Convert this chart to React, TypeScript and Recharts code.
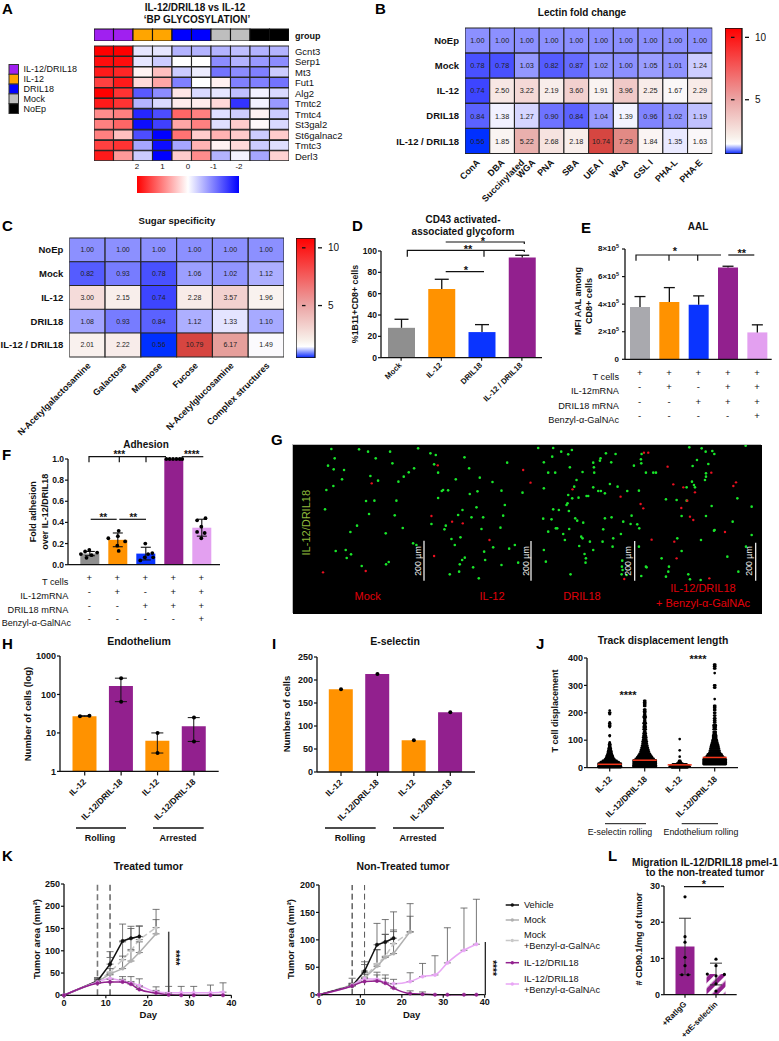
import React from "react";
import {
  Bar,
  BarChart,
  Cell,
  ComposedChart,
  ErrorBar,
  LabelList,
  Line,
  LineChart,
  ReferenceLine,
  Scatter,
  ScatterChart,
  XAxis,
  YAxis,
} from "recharts";

const FONT = "'Liberation Sans', Arial, sans-serif";
const INK = "#111";
const GRAY = "#8f8f8f";
const LGRAY = "#a9a9ae";
const ORANGE = "#ff9200";
const BLUE = "#0a34ff";
const PURPLE = "#92208e";
const LILAC = "#e3a0f0";

// --- panel A
const groupNames = ["IL-12/DRIL18", "IL-12", "DRIL18", "Mock", "NoEp"];
const groupColors = ["#a020f0", "#ffa500", "#0000ff", "#bebebe", "#000000"];
const stripColors = ["#a020f0", "#a020f0", "#ffa500", "#ffa500", "#0000ff", "#0000ff", "#bebebe", "#bebebe", "#000000", "#000000"];
const genes = ["Gcnt3", "Serp1", "Mt3", "Fut1", "Alg2", "Tmtc2", "Tmtc4", "St3gal2", "St6galnac2", "Tmtc3", "Derl3"];
const geneZ = [
  [2, 2, -0.2, -0.2, -0.6, -0.6, -0.6, -0.5, -0.6, -0.6],
  [1.9, 1.9, -0.2, -0.4, 0, 0, -0.9, -0.6, -0.8, -0.9],
  [1.8, 1.7, 0.1, 0.5, -0.4, -0.15, -1.1, -0.9, -1, -0.4],
  [1.5, 1.8, 0.3, 0.7, -1, 0, 0.12, -1, -1, -1.1],
  [2, 1.6, -1.3, -0.9, 0.2, -0.3, -0.2, -0.5, -0.1, -0.3],
  [1.8, 1.6, -0.6, -0.3, 0.15, 0.15, 0.3, -1.6, -0.1, -0.8],
  [0.9, 1, -1.7, -1.4, 1.2, 1, -0.25, -0.4, 0.1, -0.4],
  [1, 1.2, -1.9, -1.5, 0.7, 1, -0.25, 0.4, 0.05, -0.3],
  [1, 0.5, -1.4, -2, 1.1, 0.4, 0.6, 0.4, -0.4, 0.4],
  [1.5, 1.6, -0.7, -1.9, -0.7, 0.6, 0.1, 0.3, -0.4, -0.25],
  [1.8, 0.8, -0.4, -2, 0.4, 0.9, -0.6, -0.1, -0.7, 0.35],
];

// --- panels B and C
const foldRows = ["NoEp", "Mock", "IL-12", "DRIL18", "IL-12 / DRIL18"];
const lectins = ["ConA", "DBA", "Succinylated\nWGA", "PNA", "SBA", "UEA I", "WGA", "GSL I", "PHA-L", "PHA-E"];
const lectinFold = [
  [1, 1, 1, 1, 1, 1, 1, 1, 1, 1],
  [0.78, 0.78, 1.03, 0.82, 0.87, 1.02, 1, 1.05, 1.01, 1.24],
  [0.74, 2.5, 3.22, 2.19, 3.6, 1.91, 3.96, 2.25, 1.67, 2.29],
  [0.84, 1.38, 1.27, 0.9, 0.84, 1.04, 1.39, 0.96, 1.02, 1.19],
  [0.56, 1.85, 5.22, 2.68, 2.18, 10.74, 7.29, 1.84, 1.35, 1.63],
];
const sugars = ["N-Acetylgalactosamine", "Galactose", "Mannose", "Fucose", "N-Acetylglucosamine", "Complex structures"];
const sugarFold = [
  [1, 1, 1, 1, 1, 1],
  [0.82, 0.93, 0.78, 1.06, 1.02, 1.12],
  [3, 2.15, 0.74, 2.28, 3.57, 1.96],
  [1.08, 0.93, 0.84, 1.12, 1.33, 1.1],
  [2.01, 2.22, 0.56, 10.79, 6.17, 1.49],
];

// --- panel D
const dLabels = ["Mock", "IL-12", "DRIL18", "IL-12 / DRIL18"];
const dValues = [28, 64.5, 24, 94];
const dErrors = [8, 9, 7, 2];

// --- panel E
const eValues = [380000, 415000, 395000, 665000, 195000];
const eErrors = [75000, 105000, 65000, 10000, 55000];
const eTicks = [0, 200000, 400000, 600000, 800000];
const tCells = ["+", "+", "+", "+", "+"];
const il12Row = ["-", "+", "-", "+", "+"];
const dril18Row = ["-", "-", "+", "+", "+"];
const benzylRow = ["-", "-", "-", "-", "+"];

// --- panel F
const fValues = [0.105, 0.235, 0.105, 1, 0.35];
const fSpread = [0.02, 0.065, 0.06, 0, 0.08];
const fDots = [
  { x: -0.3, y: 0.1 }, { x: -0.15, y: 0.125 }, { x: 0, y: 0.14 }, { x: 0.28, y: 0.115 }, { x: -0.1, y: 0.065 }, { x: 0.08, y: 0.09 },
  { x: 0.68, y: 0.25 }, { x: 1.05, y: 0.32 }, { x: 1.28, y: 0.22 }, { x: 1.02, y: 0.27 }, { x: 1.0, y: 0.18 }, { x: 1.05, y: 0.13 },
  { x: 1.82, y: 0.04 }, { x: 2.0, y: 0.2 }, { x: 2.28, y: 0.07 }, { x: 2.1, y: 0.1 }, { x: 1.98, y: 0.07 }, { x: 2.25, y: 0.11 },
  { x: 2.75, y: 1 }, { x: 2.87, y: 1 }, { x: 2.99, y: 1 }, { x: 3.11, y: 1 }, { x: 3.23, y: 1 }, { x: 3.32, y: 1 },
  { x: 3.85, y: 0.42 }, { x: 4.15, y: 0.44 }, { x: 4.0, y: 0.36 }, { x: 3.85, y: 0.31 }, { x: 4.12, y: 0.3 }, { x: 4.0, y: 0.25 },
];

const greenSpots = [
  [275, 57], [358, 58], [385, 65], [451, 65], [535, 55], [408, 85], [285, 85], [458, 100], [265, 107], [282, 118], [313, 120], [523, 115], [507, 127], [392, 138], [492, 140], [307, 148], [476, 155], [415, 152], [281, 168], [260, 180], [404, 212], [379, 213], [256, 238], [465, 256], [388, 252], [352, 287], [489, 294], [332, 306], [438, 310], [288, 363], [318, 360], [334, 373], [321, 384], [439, 403], [366, 408], [447, 396], [520, 340], [530, 345], [470, 212],
  [572, 70], [588, 75], [674, 82], [583, 103], [595, 128], [688, 115], [802, 98], [648, 148], [720, 143], [758, 156], [610, 180], [606, 183], [625, 181], [690, 192], [713, 184], [595, 204], [785, 182], [848, 188], [795, 225], [710, 232], [668, 240], [655, 255], [695, 262], [790, 257], [618, 287], [730, 262], [614, 298], [725, 297], [782, 293], [635, 327], [662, 322], [645, 345], [825, 345], [808, 356], [733, 365], [760, 352], [675, 383], [667, 390], [660, 403], [700, 412], [736, 390], [785, 405], [835, 398], [630, 433], [658, 425], [717, 445], [575, 282],
  [895, 54], [940, 54], [964, 65], [996, 60], [985, 73], [937, 80], [1098, 70], [1127, 72], [1082, 85], [1080, 92], [1114, 97], [1060, 98], [912, 97], [990, 112], [1182, 107], [1062, 112], [1063, 128], [925, 128], [946, 128], [1028, 126], [1205, 72], [1203, 88], [1204, 100], [1010, 150], [1110, 162], [1133, 170], [1060, 172], [985, 195], [1003, 170], [912, 175], [1075, 183], [1083, 183], [1095, 190], [1162, 183], [1197, 182], [997, 205], [1016, 203], [1040, 198], [1045, 198], [983, 220], [980, 225], [940, 238], [957, 240], [987, 243], [1006, 265], [1012, 272], [935, 268], [910, 266], [1095, 265], [1115, 262], [1175, 257], [1030, 278], [1150, 275], [1172, 282], [1192, 283], [1198, 295], [948, 295], [952, 295], [988, 297], [925, 305], [970, 312], [1090, 298], [1143, 312], [1024, 320], [1028, 325], [1120, 325], [1088, 335], [1060, 360], [1018, 348], [1050, 335], [912, 360], [1034, 372], [1038, 385], [1037, 398], [1118, 350], [975, 330], [1147, 392], [1146, 410], [1148, 420], [1145, 433], [992, 433], [918, 395], [1197, 350], [1218, 410], [1204, 438], [1160, 435],
  [1348, 52], [1385, 55], [1397, 65], [1417, 63], [1423, 72], [1517, 47], [1371, 90], [1405, 102], [1358, 108], [1218, 128], [1240, 128], [1248, 128], [1398, 140], [1356, 155], [1340, 172], [1398, 130], [1395, 150], [1310, 210], [1278, 208], [1340, 212], [1415, 228], [1535, 230], [1325, 258], [1398, 258], [1478, 275], [1424, 300], [1422, 302], [1492, 205], [1312, 325], [1383, 330], [1325, 363], [1462, 380], [1265, 385], [1220, 412], [1287, 410], [1285, 425], [1278, 440], [1345, 433], [1382, 450], [1350, 448], [1495, 425], [1535, 315], [1518, 350], [1365, 172], [1362, 165],
].map(([x, y]) => ({ x, y }));
const redSpots = [
  [250, 427], [378, 423], [396, 160], [594, 106], [850, 120], [872, 158], [575, 258], [637, 275], [669, 280], [749, 330], [583, 378], [998, 178], [1142, 200], [1212, 68], [1225, 68], [1283, 110], [1300, 163], [1330, 172], [1414, 128], [1365, 187], [1488, 157], [1342, 212], [1202, 222], [1210, 235], [1324, 234], [1350, 260], [1360, 270], [1455, 306], [1235, 329], [1303, 335], [1310, 385], [1408, 445], [1153, 447], [1480, 168],
].map(([x, y]) => ({ x, y }));

// --- panels H and I
const rollLabels = ["IL-12", "IL-12/DRIL-18", "IL-12", "IL-12/DRIL-18"];
const hValues = [27, 165, 6.3, 15];
const hDots = [
  { x: -0.13, y: 27 }, { x: 0.13, y: 28 }, { x: 1, y: 265 }, { x: 1, y: 65 },
  { x: 2, y: 10 }, { x: 2, y: 3 }, { x: 3, y: 25 }, { x: 3, y: 6 },
];
const hHigh = [28, 265, 10, 25];
const hLow = [27, 65, 3, 6];
const iValues = [180, 213, 69, 130];

// --- panel J: [displacement, number of tracks]
const jEselIl12 = [[208, 1], [200, 2], [195, 1], [165, 1], [160, 2], [152, 2], [148, 1], [118, 1], [115, 1], [92, 1], [88, 1], [85, 2], [80, 2], [75, 2], [70, 3], [65, 3], [60, 4], [55, 4], [50, 5], [45, 6], [40, 7], [35, 8], [30, 10], [25, 14], [20, 18], [15, 22], [10, 26], [5, 28], [2, 24]];
const jEselDual = [[244, 2], [238, 2], [232, 2], [225, 2], [212, 2], [206, 2], [200, 2], [192, 2], [185, 3], [178, 2], [170, 2], [162, 3], [155, 2], [148, 3], [140, 3], [132, 2], [125, 3], [118, 3], [110, 4], [102, 4], [95, 5], [88, 5], [80, 6], [72, 7], [65, 8], [58, 9], [50, 11], [44, 13], [38, 15], [32, 18], [26, 22], [20, 28], [14, 30], [8, 32], [3, 32]];
const jEndoIl12 = [[104, 1], [63, 1], [40, 1], [25, 2], [20, 3], [15, 6], [12, 14], [8, 18], [4, 20], [1, 16]];
const jEndoDual = [[376, 2], [370, 2], [362, 2], [345, 1], [300, 2], [292, 2], [250, 1], [225, 2], [218, 2], [210, 2], [200, 2], [190, 2], [180, 2], [172, 2], [165, 2], [155, 3], [148, 3], [140, 3], [130, 3], [122, 3], [115, 4], [108, 4], [100, 5], [92, 6], [85, 7], [78, 8], [70, 9], [62, 10], [55, 11], [48, 14], [42, 16], [36, 20], [30, 24], [24, 28], [18, 28], [13, 28]];
const jMeans = [12, 27, 10, 37];
const jGroups = [jEselIl12, jEselDual, jEndoIl12, jEndoDual];

// --- panel K
const allDays = [0, 8, 11, 14, 16, 18, 22, 25, 28, 31, 35, 38];
const tVehicle = [0, 32, 70, 122, 128, 132];
const tVehicleErr = [0, 8, 28, 38, 27, 24];
const tMock = [0, 30, 48, 60, 77, 96, 138];
const tMockErr = [0, 5, 12, 28, 26, 24, 32];
const tMockB = [0, 32, 52, 80, 100, 125, 152];
const tMockBErr = [0, 6, 33, 40, 50, 30, 41];
const tDual = [0, 27, 30, 30, 25, 13, 5, 1, 0, 0, 0, 0];
const tDualErr = [0, 4, 6, 6, 6, 6, 6, 4, 0, 0, 0, 0];
const tDualB = [0, 30, 38, 32, 28, 22, 8, 6, 6, 6, 6, 7];
const tDualBErr = [0, 6, 8, 10, 14, 15, 11, 14, 14, 14, 17, 21];
const nVehicle = [0, 16, 43, 91, 96, 103];
const nVehicleErr = [0, 4, 17, 39, 41, 48];
const nMock = [0, 17, 30, 52, 68, 75, 115];
const nMockErr = [0, 3, 10, 30, 42, 40, 28];
const nMockB = [0, 18, 32, 56, 70, 93, 114];
const nMockBErr = [0, 12, 23, 26, 40, 25, 52];
const nDual = [0, 16, 24, 25, 21, 12, 2, 1, 0, 0, 0, 0];
const nDualErr = [0, 3, 6, 16, 15, 8, 5, 4, 0, 0, 0, 0];
const nDualB = [0, 17, 29, 28, 22, 20, 24, 33, 36, 58, 81, 92];
const nDualBErr = [0, 4, 8, 8, 8, 8, 16, 24, 35, 64, 77, 82];

// --- panel L
const lLabels = ["+RatIgG", "+αE-selectin"];
const lValues = [13.3, 5.7];
const lSpread = [7.8, 3];
const lDots = [
  { x: 0, y: 27 }, { x: 0, y: 16 }, { x: 0, y: 14.5 }, { x: 0, y: 10.3 }, { x: 0, y: 8 }, { x: -0.1, y: 5.5 }, { x: 0.1, y: 5.5 },
  { x: 1, y: 9.8 }, { x: 1, y: 8 }, { x: 0.72, y: 5.7 }, { x: 1.27, y: 5.6 }, { x: 1, y: 5.2 }, { x: 1, y: 3 }, { x: 1, y: 1 },
];

const withX = (bins: number[][], pos: number) =>
  bins.flatMap(([y, n]) => {
    const gap = Math.min(0.03, 0.66 / n);
    return Array.from({ length: n }, (_, k) => ({ x: pos + (k - (n - 1) / 2) * gap, y }));
  });

const mixHex = (a: string, b: string, t: number) => {
  const p = (s: string, i: number) => parseInt(s.slice(i, i + 2), 16);
  const c = [1, 3, 5].map((i) => Math.round(p(a, i) + (p(b, i) - p(a, i)) * t));
  return `rgb(${c[0]},${c[1]},${c[2]})`;
};
const zColor = (z: number) => (z >= 0 ? mixHex("#ffffff", "#ff0000", Math.min(z / 2, 1)) : mixHex("#ffffff", "#0000ff", Math.min(-z / 2, 1)));
const foldStops: [number, string][] = [
  [0.56, "#0030ff"], [0.74, "#3d45ff"], [1, "#8c90ff"], [1.25, "#d0d0ff"], [1.42, "#fbfbff"], [2, "#f9f1ee"],
  [3.6, "#f2d0ce"], [5.22, "#e9b0ad"], [7.29, "#e28a85"], [10.8, "#d64540"],
];
const foldColor = (v: number) => {
  for (let i = 1; i < foldStops.length; i++) {
    if (v <= foldStops[i][0]) {
      const [a, ca] = foldStops[i - 1];
      const [b, cb] = foldStops[i];
      return mixHex(ca, cb, (v - a) / (b - a));
    }
  }
  return foldStops[foldStops.length - 1][1];
};

// places a chart so that its plot area lands on the given page box
const frame = (x0: number, y0: number, x1: number, y1: number, l = 50, t = 6, r = 6, b = 50) => ({
  style: { position: "absolute" as const, left: x0 - l, top: y0 - t },
  width: x1 - x0 + l + r,
  height: y1 - y0 + t + b,
  margin: { left: 0, top: t, right: r, bottom: 0 },
  l,
  b,
  r,
});

const T = ({ x, y, s = 9, b = false, a = "middle", c = INK, r, children }: any) => (
  <text
    x={x}
    y={y}
    fontSize={s}
    fontWeight={b ? 700 : 400}
    textAnchor={a}
    dominantBaseline="central"
    fill={c}
    fontFamily={FONT}
    transform={r != null ? `rotate(${r} ${x} ${y})` : undefined}
  >
    {children}
  </text>
);
const Stars = ({ x, y, s = 11, r, children }: any) => (
  <T x={x} y={r != null ? y : y + 2} s={s} b r={r}>
    {children}
  </T>
);
const L = ({ pts, w = 1.2, c = INK }: any) => (
  <polyline points={pts} fill="none" stroke={c} strokeWidth={w} />
);

const rotTick = (labels: string[] | null, size: number, dx = 2, dy = 5) => (p: any) => {
  const raw = labels ? labels[p.index] : p.payload.value;
  const parts = String(raw).split("\n");
  return (
    <g>
      {parts.map((part, i) => {
        const px = p.x + (parts.length > 1 ? (i === 0 ? dx - 5 : dx + 6) : dx);
        const py = p.y + dy;
        return (
          <text key={i} x={px} y={py} fontSize={size} fontWeight={700} fontFamily={FONT} fill={INK} textAnchor="end" transform={`rotate(-45 ${px} ${py})`}>
            {part}
          </text>
        );
      })}
    </g>
  );
};

const rowTick = (size: number, bold: boolean, right: boolean) => (p: any) => (
  <text x={p.x} y={p.y} fontSize={size} fontWeight={bold ? 700 : 400} fontFamily={FONT} fill={INK} textAnchor={right ? "start" : "end"} dominantBaseline="central">
    {p.payload.value}
  </text>
);

const tableTick = (rows: string[][], offsets: number[], size: number) => (p: any) => (
  <g>
    {rows.map((row, i) => (
      <text key={i} x={p.x} y={p.y - 6 + offsets[i]} fontSize={size} fontFamily={FONT} fill={INK} textAnchor="middle" dominantBaseline="central">
        {row[p.index]}
      </text>
    ))}
  </g>
);

const whisker = (cap: number) => (p: any) => {
  const cx = p.x + p.width / 2;
  return (
    <g stroke={INK} strokeWidth={1.3} fill="none">
      <line x1={cx} x2={cx} y1={p.y + p.height} y2={p.y} />
      <line x1={cx - cap} x2={cx + cap} y1={p.y} y2={p.y} />
    </g>
  );
};
const dotShape = (r: number, fill: string) => (p: any) => <circle cx={p.cx} cy={p.cy} r={r} fill={fill} />;
const axisLine = { stroke: INK, strokeWidth: 1.3 };
const tickLine = { stroke: INK, strokeWidth: 1.2 };
const axisTick = (s: number) => ({ fontSize: s, fontWeight: 700, fill: INK, fontFamily: FONT });

const Heatmap = ({ box, rows, values, color, xLabels, labelSize = 9, labelDx = 3, showValues = true, side = "left", rowSize = 9.5, rowBold = true, valueSize = 7.3, border = "#262626" }: any) => {
  const n = values[0].length;
  const table = values.map((vals: number[], i: number) => {
    const row: any = { row: rows[i] };
    vals.forEach((v, j) => {
      row[`c${j}`] = 1;
      row[`v${j}`] = v;
    });
    return row;
  });
  const colIdx = Array.from({ length: n }, (_, j) => j);
  const isRight = side === "right";
  return (
    <div style={box.style}>
      <BarChart width={box.width} height={box.height} data={table} layout="vertical" barCategoryGap={0} margin={isRight ? { ...box.margin, right: 0 } : box.margin}>
        <XAxis type="number" domain={[0, n]} allowDataOverflow height={box.b} hide={!xLabels} ticks={colIdx.map((j) => j + 0.5)} interval={0} tickLine={false} axisLine={false} tick={rotTick(xLabels, labelSize, labelDx, 1.5)} />
        <YAxis type="category" dataKey="row" orientation={isRight ? "right" : "left"} width={isRight ? box.r : box.l} interval={0} tickLine={false} axisLine={false} tickMargin={0} hide={rowSize === 0} tick={rowTick(rowSize, rowBold, isRight)} />
        {colIdx.map((j) => (
          <Bar key={j} dataKey={`c${j}`} stackId="h" isAnimationActive={false}>
            {table.map((_: any, i: number) => (
              <Cell key={i} fill={color(values[i][j])} stroke={border} strokeWidth={1.1} />
            ))}
            {showValues && <LabelList dataKey={`v${j}`} position="center" fontSize={valueSize} fill="#222" fontFamily={FONT} formatter={(v: any) => Number(v).toFixed(2)} />}
          </Bar>
        ))}
      </BarChart>
    </div>
  );
};

const FoldBar = ({ id, box, lo, hi }: any) => {
  const pct = (v: number) => `${(100 * (hi - v)) / (hi - lo)}%`;
  const barW = box.width - box.r;
  return (
    <div style={box.style}>
      <BarChart width={box.width} height={box.height} data={[{ n: "fold", span: [lo, hi] }]} barCategoryGap={0} margin={{ ...box.margin, right: 0 }}>
        <defs>
          <linearGradient id={id} x1="0" y1="0" x2="0" y2="1">
            <stop offset="0%" stopColor="#ff0000" />
            <stop offset={pct(5)} stopColor="#eba5a5" />
            <stop offset={pct(2)} stopColor="#f8f0ea" />
            <stop offset={pct(1.45)} stopColor="#ffffff" />
            <stop offset="100%" stopColor="#0020ff" />
          </linearGradient>
        </defs>
        <XAxis dataKey="n" hide />
        <YAxis
          orientation="right"
          width={box.r}
          type="number"
          domain={[lo, hi]}
          allowDataOverflow
          ticks={[5, 10]}
          interval={0}
          tickLine={false}
          axisLine={false}
          tick={(p: any) => (
            <g>
              <line x1={p.x - barW - 2} x2={p.x - barW + 1.5} y1={p.y} y2={p.y} stroke={INK} strokeWidth={1.3} />
              <line x1={p.x - 5} x2={p.x - 1} y1={p.y} y2={p.y} stroke={INK} strokeWidth={1.3} />
              <text x={p.x + 5} y={p.y} fontSize={10} fontFamily={FONT} fill={INK} dominantBaseline="central">
                {p.payload.value}
              </text>
            </g>
          )}
          tickMargin={2}
        />
        <Bar dataKey="span" fill={`url(#${id})`} stroke="#111" strokeWidth={1.3} isAnimationActive={false} />
      </BarChart>
    </div>
  );
};

const TumorChart = ({ box, top, ticks, first, second, lines }: any) => (
  <div style={box.style}>
    <LineChart width={box.width} height={box.height} margin={box.margin}>
      <XAxis type="number" dataKey="day" domain={[0, 40]} ticks={[0, 10, 20, 30, 40]} height={box.b} interval={0} tickSize={3} axisLine={axisLine} tickLine={tickLine} tick={axisTick(9)} tickMargin={1} allowDuplicatedCategory={false} />
      <YAxis type="number" domain={[0, top]} ticks={ticks} width={box.l} interval={0} tickSize={3} axisLine={axisLine} tickLine={tickLine} tick={axisTick(9)} tickMargin={1} />
      <ReferenceLine x={8} stroke={first.c} strokeWidth={first.w} strokeDasharray="6 3.5" />
      <ReferenceLine x={11} stroke={second.c} strokeWidth={second.w} strokeDasharray="6 3.5" />
      {lines.map((s: any) => (
        <Line
          key={s.name}
          data={s.vals.map((v: number, i: number) => ({ day: allDays[i], v, e: [0, s.errs[i]] }))}
          dataKey="v"
          name={s.name}
          type={s.curve}
          stroke={s.c}
          strokeWidth={1.5}
          strokeDasharray={s.dash}
          dot={{ r: 1.7, fill: s.c, stroke: s.c, strokeWidth: 0.5 }}
          isAnimationActive={false}
        >
          <ErrorBar dataKey="e" direction="y" width={3.5} stroke="#555" strokeWidth={0.8} />
        </Line>
      ))}
    </LineChart>
  </div>
);

const legendItems = [
  { c: "#111", dash: undefined, lines: ["Vehicle"], y: 905 },
  { c: "#b0b0b0", dash: undefined, lines: ["Mock"], y: 920 },
  { c: "#c8c8c8", dash: "5 3", lines: ["Mock", "+Benzyl-α-GalNAc"], y: 940.5 },
  { c: PURPLE, dash: undefined, lines: ["IL-12/DRIL18"], y: 962.7 },
  { c: "#e8a6f5", dash: undefined, lines: ["IL-12/DRIL18", "+Benzyl-α-GalNAc"], y: 984 },
];

const Annotations = () => (
  <svg width={779} height={1041} style={{ position: "absolute", left: 0, top: 0, pointerEvents: "none" }}>
    {[["A", 2, 8], ["B", 375, 8], ["C", 2, 225], ["D", 352, 225], ["E", 581, 227], ["F", 2, 454], ["G", 271, 439], ["H", 2, 643], ["I", 272, 643], ["J", 536, 643], ["K", 2, 855], ["L", 608, 855]].map(([t, x, y]) => (
      <T key={t as string} x={x} y={y} s={15} b a="start" c="#000">
        {t}
      </T>
    ))}
    <T x={195} y={7.5} s={10} b>IL-12/DRIL18 vs IL-12</T>
    <T x={197} y={19.5} s={10} b>‘BP GLYCOSYLATION’</T>
    <T x={295} y={35.5} s={9} b a="start">group</T>
    {groupNames.map((g, i) => (
      <g key={g}>
        <rect x={9} y={64.5 + i * 9.8} width={9.5} height={9.8} fill={groupColors[i]} stroke="#333" strokeWidth={1} />
        <T x={23.5} y={69.3 + i * 10} s={9} a="start">{g}</T>
      </g>
    ))}
    <T x={582} y={12.7} s={10} b>Lectin fold change</T>
    <T x={177} y={220.7} s={9.6} b>Sugar specificity</T>

    <T x={463} y={219} s={10} b>CD43 activated-</T>
    <T x={463} y={231} s={10} b>associated glycoform</T>
    <L pts="445.7,242 524.3,242 524.3,244" />
    <Stars x={483} y={239}>*</Stars>
    <L pts="407.3,256.7 407.3,250.3 524.3,250.3 524.3,252" />
    <L pts="484,250.3 484,256.7" />
    <Stars x={468} y={247}>**</Stars>
    <L pts="445.7,271.7 484,271.7" />
    <Stars x={466} y={268}>*</Stars>
    <T x={355} y={304} s={8.8} b r={-90}>%1B11+CD8+ cells</T>

    <T x={698} y={226.7} s={10} b>AAL</T>
    <L pts="636,260.7 636,255 721,255" />
    <L pts="669,255 669,260.7" />
    <L pts="697.7,255 697.7,260.7" />
    <Stars x={675} y={249}>*</Stars>
    <L pts="728.3,255 754.3,255" />
    <Stars x={741.7} y={251}>**</Stars>
    <T x={578} y={301} s={9} b r={-90}>MFI AAL among</T>
    <T x={589} y={301} s={9} b r={-90}>CD8+ cells</T>
    {[["T cells", 376.7], ["IL-12mRNA", 391], ["DRIL18 mRNA", 406], ["Benzyl-α-GalNAc", 420]].map(([t, y]) => (
      <T key={t as string} x={619} y={y} s={9.2} a="end">{t}</T>
    ))}

    <T x={146} y={444.3} s={10} b>Adhesion</T>
    <L pts="89,462.3 89,456.7 166,456.7" />
    <L pts="119.3,456.7 119.3,462.3" />
    <L pts="146,456.7 146,462.3" />
    <Stars x={119.3} y={452.3} s={10}>***</Stars>
    <L pts="181.7,456.7 203.3,456.7" />
    <Stars x={191.7} y={452.3} s={10}>****</Stars>
    <L pts="90.7,519.3 116.7,519.3" />
    <Stars x={103.3} y={515.3} s={10}>**</Stars>
    <L pts="119.3,519.3 146,519.3" />
    <Stars x={133.3} y={515.3} s={10}>**</Stars>
    <T x={32.7} y={511.7} s={9} b r={-90}>Fold adhesion</T>
    <T x={45} y={511.7} s={9} b r={-90}>over IL-12/DRIL18</T>
    {[["T cells", 582.3], ["IL-12mRNA", 595.7], ["DRIL18 mRNA", 610]].map(([t, y]) => (
      <T key={t as string} x={68.3} y={y} s={9.2} a="end">{t}</T>
    ))}
    <T x={71} y={623.3} s={9} a="end">Benzyl-α-GalNAc</T>

    <T x={305.7} y={522.7} s={11} c="#8fbb3c" r={-90}>IL-12/DRIL18</T>
    {[[424, 540.7, 417.7], [531, 541, 525.7], [634.7, 541, 628], [755.7, 542.7, 749]].map(([x, y, lx]) => (
      <g key={x}>
        <L pts={`${x},${y} ${x},580.7`} c="#fff" w={1.2} />
        <T x={lx} y={561} s={8.8} c="#eee" r={-90}>200 µm</T>
      </g>
    ))}
    <T x={367.7} y={596} s={11} c="#e0000a">Mock</T>
    <T x={492} y={596} s={11} c="#e0000a">IL-12</T>
    <T x={582} y={596} s={11} c="#e0000a">DRIL18</T>
    <T x={703} y={588} s={11} c="#e0000a">IL-12/DRIL18</T>
    <T x={703} y={603} s={11} c="#e0000a">+ Benzyl-α-GalNAc</T>

    <T x={139} y={640.7} s={10.5} b>Endothelium</T>
    <T x={395} y={640.7} s={10.5} b>E-selectin</T>
    <T x={663} y={640.7} s={10.4} b>Track displacement length</T>
    <T x={27.3} y={714} s={9.5} b r={-90}>Number of cells (log)</T>
    <T x={286.7} y={714} s={9.5} b r={-90}>Numbers of cells</T>
    <T x={555} y={711} s={9} b r={-90}>T cell displacement</T>
    {[[76, 126], [153, 203.7], [325, 375.7], [393, 444]].map(([a, b]) => (
      <L key={a} pts={`${a},828 ${b},828`} w={1.4} />
    ))}
    <T x={100} y={838} s={9} b>Rolling</T>
    <T x={178} y={838} s={9} b>Arrested</T>
    <T x={350} y={838} s={9} b>Rolling</T>
    <T x={418} y={838} s={9} b>Arrested</T>
    <Stars x={628} y={693}>****</Stars>
    <Stars x={698} y={656.5}>****</Stars>
    <L pts="605,823.7 646,823.7" w={1} />
    <L pts="681.7,823.7 718,823.7" w={1} />
    <T x={620} y={832} s={8.8}>E-selectin rolling</T>
    <T x={701} y={832} s={8.8}>Endothelium rolling</T>

    <T x={148.3} y={866.7} s={10.4} b>Treated tumor</T>
    <T x={403} y={866.7} s={10.4} b>Non-Treated tumor</T>
    <T x={36} y={939} s={9.5} b r={-90}>Tumor area (mm²)</T>
    <T x={290.7} y={939} s={9.5} b r={-90}>Tumor area (mm²)</T>
    <T x={148.3} y={1014} s={9.5} b>Day</T>
    <T x={411.7} y={1014} s={9.5} b>Day</T>
    <L pts="168.7,931.7 168.7,992" c="#444" w={1.5} />
    <Stars x={175} y={957.7} r={90} s={10}>****</Stars>
    <L pts="485.3,942 485.3,995" w={1.2} />
    <Stars x={492.7} y={968} r={90} s={10}>****</Stars>
    {legendItems.map((it) => (
      <g key={it.y}>
        <line x1={505.7} x2={519} y1={it.y} y2={it.y} stroke={it.c} strokeWidth={1.5} strokeDasharray={it.dash} />
        <circle cx={512.3} cy={it.y} r={1.7} fill={it.c} />
        {it.lines.map((t, i) => (
          <T key={i} x={524} y={it.y + (it.lines.length > 1 ? (i === 0 ? -5.5 : 5.5) : 0)} s={9.2} a="start">{t}</T>
        ))}
      </g>
    ))}

    <T x={705} y={862} s={10.2} b>Migration IL-12/DRIL18 pmel-1</T>
    <T x={705} y={872} s={10.2} b>to the non-treated tumor</T>
    <L pts="684,886.7 724,886.7" />
    <Stars x={704} y={882}>*</Stars>
    <T x={639} y={939} s={9} b r={-90}># CD90.1/mg of tumor</T>
  </svg>
);

const App = () => {
  const aBox = frame(94, 45.7, 289, 160, 0, 1, 60, 1);
  const aStrip = frame(94, 29, 289, 40, 0, 1, 1, 1);
  const aKey = frame(137, 176, 239, 192, 8, 14, 8, 1);
  const bBox = frame(464.7, 28.3, 712, 154, 90, 1, 1, 60);
  const bKey = frame(727, 28, 742, 153, 2, 1, 24, 1);
  const cBox = frame(69.3, 238, 284, 356.7, 69.3, 1, 1, 90);
  const cKey = frame(298, 238, 315, 357, 2, 1, 24, 1);
  const dBox = frame(381, 251, 542, 357.7, 30, 6, 4, 60);
  const eBox = frame(625, 249, 771.7, 359.3, 36, 6, 4, 70);
  const fBox = frame(68, 459.3, 220, 565, 30, 6, 4, 66);
  const gBox = frame(293, 445, 761.7, 614, 0, 0, 0, 0);
  const hBox = frame(60.3, 656.3, 219, 771.7, 28, 6, 4, 50);
  const iBox = frame(317, 656.7, 475, 771.7, 28, 6, 4, 50);
  const jBox = frame(587.3, 657.7, 738.3, 767.3, 28, 6, 4, 55);
  const kBox = frame(64.3, 883.7, 231.7, 995, 26, 6, 6, 14);
  const nBox = frame(319.3, 885.3, 485, 995, 26, 6, 6, 14);
  const lBox = frame(664, 886.3, 736.7, 995, 24, 6, 4, 46);

  const dData = dLabels.map((name, i) => ({ name, v: dValues[i], e: dErrors[i] }));
  const eData = eValues.map((v, i) => ({ name: `e${i}`, v, e: eErrors[i] }));
  const fData = fValues.map((v, i) => ({ name: `f${i}`, v, e: fSpread[i] }));
  const hData = hValues.map((v, i) => ({ name: `h${i}`, v, e: [v - hLow[i], hHigh[i] - v] }));
  const iData = iValues.map((v, i) => ({ name: `i${i}`, v }));
  const iDots = iValues.map((y, i) => ({ x: i, y }));
  const lData = lValues.map((v, i) => ({ name: lLabels[i], v, e: lSpread[i] }));
  const jSwarm = jGroups.map((g, i) => withX(g, i));
  const jLines = jMeans.map((y, i) => ({ x: i, y }));

  const treated = [
    { name: "Mock+B", vals: tMockB, errs: tMockBErr, c: "#c8c8c8", dash: "6 3", curve: "linear" },
    { name: "Mock", vals: tMock, errs: tMockErr, c: "#b0b0b0", curve: "linear" },
    { name: "Vehicle", vals: tVehicle, errs: tVehicleErr, c: "#111", curve: "linear" },
    { name: "Dual+B", vals: tDualB, errs: tDualBErr, c: "#e8a6f5", curve: "monotone" },
    { name: "Dual", vals: tDual, errs: tDualErr, c: PURPLE, curve: "monotone" },
  ];
  const nonTreated = [
    { name: "Mock+B", vals: nMockB, errs: nMockBErr, c: "#c8c8c8", dash: "6 3", curve: "linear" },
    { name: "Mock", vals: nMock, errs: nMockErr, c: "#b0b0b0", curve: "linear" },
    { name: "Vehicle", vals: nVehicle, errs: nVehicleErr, c: "#111", curve: "linear" },
    { name: "Dual+B", vals: nDualB, errs: nDualBErr, c: "#e8a6f5", curve: "monotone" },
    { name: "Dual", vals: nDual, errs: nDualErr, c: PURPLE, curve: "monotone" },
  ];

  return (
    <div style={{ position: "absolute", left: 0, top: 0, width: 779, height: 1041, background: "#fff", overflow: "hidden", fontFamily: FONT }}>
      {/* A */}
      <Heatmap box={aStrip} rows={["group"]} values={[stripColors.map((_, i) => i)]} color={(i: number) => stripColors[i]} showValues={false} rowSize={0} border="#111" />
      <Heatmap box={aBox} rows={genes} values={geneZ} color={zColor} showValues={false} side="right" rowSize={9.5} rowBold={false} />
      <div style={aKey.style}>
        <BarChart width={aKey.width} height={aKey.height} layout="vertical" data={[{ n: "z", span: [-2, 2] }]} barCategoryGap={0} margin={{ left: 8, right: 8, top: 0, bottom: 0 }}>
          <defs>
            <linearGradient id="zGrad" x1="0" y1="0" x2="1" y2="0">
              <stop offset="0%" stopColor="#ff0000" />
              <stop offset="50%" stopColor="#ffffff" />
              <stop offset="100%" stopColor="#0000ff" />
            </linearGradient>
          </defs>
          <XAxis type="number" orientation="top" reversed domain={[-2, 2]} ticks={[2, 1, 0, -1, -2]} height={14} interval={0} tickLine={false} axisLine={false} tick={{ fontSize: 8, fill: INK, fontFamily: FONT }} tickMargin={1} />
          <YAxis type="category" dataKey="n" hide />
          <Bar dataKey="span" fill="url(#zGrad)" isAnimationActive={false} />
        </BarChart>
      </div>

      {/* B, C */}
      <Heatmap box={bBox} rows={foldRows} values={lectinFold} color={foldColor} xLabels={lectins} labelSize={9} />
      <FoldBar id="bGrad" box={bKey} lo={0.65} hi={10.75} />
      <Heatmap box={cBox} rows={foldRows} values={sugarFold} color={foldColor} xLabels={sugars} labelSize={9} labelDx={4} valueSize={7} />
      <FoldBar id="cGrad" box={cKey} lo={0.46} hi={10.85} />

      {/* D */}
      <div style={dBox.style}>
        <BarChart width={dBox.width} height={dBox.height} data={dData} margin={dBox.margin}>
          <XAxis dataKey="name" height={dBox.b} interval={0} tickSize={3} axisLine={axisLine} tickLine={tickLine} tick={rotTick(dLabels, 7.8, 1, 3)} />
          <YAxis domain={[0, 100]} ticks={[0, 20, 40, 60, 80, 100]} width={dBox.l} interval={0} tickSize={3} axisLine={axisLine} tickLine={tickLine} tick={axisTick(8.5)} tickMargin={1} />
          <Bar dataKey="v" stackId="d" barSize={27} isAnimationActive={false}>
            {[GRAY, ORANGE, BLUE, PURPLE].map((c) => (
              <Cell key={c} fill={c} />
            ))}
          </Bar>
          <Bar dataKey="e" stackId="d" barSize={27} shape={whisker(7)} isAnimationActive={false} />
        </BarChart>
      </div>

      {/* E */}
      <div style={eBox.style}>
        <BarChart width={eBox.width} height={eBox.height} data={eData} margin={eBox.margin}>
          <XAxis dataKey="name" height={eBox.b} interval={0} tickSize={0} axisLine={axisLine} tickLine={false} tick={tableTick([tCells, il12Row, dril18Row, benzylRow], [17.4, 31.7, 46.7, 60.7], 9.5)} />
          <YAxis
            domain={[0, 800000]}
            ticks={eTicks}
            width={eBox.l}
            interval={0}
            tickSize={3}
            axisLine={axisLine}
            tickLine={tickLine}
            tick={(p: any) => (
              <text x={p.x - 1} y={p.y} fontSize={8} fontWeight={700} fontFamily={FONT} fill={INK} textAnchor="end" dominantBaseline="central">
                {p.payload.value === 0 ? "0" : `${p.payload.value / 100000}×10`}
                {p.payload.value !== 0 && <tspan fontSize={5.5} dy={-3}>5</tspan>}
              </text>
            )}
          />
          <Bar dataKey="v" stackId="e" barSize={20} isAnimationActive={false}>
            {[LGRAY, ORANGE, BLUE, PURPLE, LILAC].map((c) => (
              <Cell key={c} fill={c} />
            ))}
          </Bar>
          <Bar dataKey="e" stackId="e" barSize={20} shape={whisker(5.5)} isAnimationActive={false} />
        </BarChart>
      </div>

      {/* F */}
      <div style={fBox.style}>
        <ComposedChart width={fBox.width} height={fBox.height} data={fData} margin={fBox.margin}>
          <XAxis xAxisId="cat" dataKey="name" height={fBox.b} padding={{ left: 7.3, right: 4.7 }} interval={0} tickSize={0} axisLine={axisLine} tickLine={false} tick={tableTick([tCells, il12Row, dril18Row, benzylRow], [17.3, 30.7, 45, 58.3], 9.5)} />
          <XAxis xAxisId="pts" dataKey="x" type="number" domain={[-0.5, 4.5]} padding={{ left: 7.3, right: 4.7 }} hide />
          <YAxis domain={[0, 1]} ticks={[0, 0.2, 0.4, 0.6, 0.8, 1]} tickFormatter={(v: number) => v.toFixed(1)} width={fBox.l} interval={0} tickSize={3} axisLine={axisLine} tickLine={tickLine} tick={axisTick(8.5)} tickMargin={1} />
          <Bar xAxisId="cat" dataKey="v" barSize={19} isAnimationActive={false}>
            {[GRAY, ORANGE, BLUE, PURPLE, LILAC].map((c) => (
              <Cell key={c} fill={c} />
            ))}
            <ErrorBar dataKey="e" width={5} stroke={INK} strokeWidth={1.1} />
          </Bar>
          <Scatter xAxisId="pts" data={fDots} dataKey="y" shape={dotShape(1.9, "#000")} isAnimationActive={false} />
        </ComposedChart>
      </div>

      {/* G */}
      <div style={{ position: "absolute", left: 293, top: 445, width: 468.7, height: 169, background: "#000", boxShadow: "-1px -1px 0 #bbb" }} />
      <div style={gBox.style}>
        <ScatterChart width={gBox.width} height={gBox.height} margin={gBox.margin}>
          <XAxis type="number" dataKey="x" domain={[160, 1565]} hide />
          <YAxis type="number" dataKey="y" domain={[45, 552]} reversed hide />
          <Scatter data={greenSpots} shape={dotShape(1.3, "#19e62a")} isAnimationActive={false} />
          <Scatter data={redSpots} shape={dotShape(1.2, "#ea1020")} isAnimationActive={false} />
        </ScatterChart>
      </div>

      {/* H */}
      <div style={hBox.style}>
        <ComposedChart width={hBox.width} height={hBox.height} data={hData} margin={hBox.margin}>
          <XAxis xAxisId="cat" dataKey="name" height={hBox.b} padding={{ left: 6.5, right: 6.5 }} interval={0} tickSize={4} axisLine={axisLine} tickLine={tickLine} tick={rotTick(rollLabels, 8.5)} />
          <XAxis xAxisId="pts" dataKey="x" type="number" domain={[-0.5, 3.5]} padding={{ left: 6.5, right: 6.5 }} hide />
          <YAxis scale="log" domain={[1, 1000]} ticks={[1, 10, 100, 1000]} allowDataOverflow width={hBox.l} interval={0} tickSize={3} axisLine={axisLine} tickLine={tickLine} tick={axisTick(9)} tickMargin={1} />
          <Bar xAxisId="cat" dataKey="v" barSize={24} isAnimationActive={false}>
            {[ORANGE, PURPLE, ORANGE, PURPLE].map((c, i) => (
              <Cell key={i} fill={c} />
            ))}
            <ErrorBar dataKey="e" width={6} stroke={INK} strokeWidth={1} />
          </Bar>
          <Scatter xAxisId="pts" data={hDots} dataKey="y" shape={dotShape(2, "#000")} isAnimationActive={false} />
        </ComposedChart>
      </div>

      {/* I */}
      <div style={iBox.style}>
        <ComposedChart width={iBox.width} height={iBox.height} data={iData} margin={iBox.margin}>
          <XAxis xAxisId="cat" dataKey="name" height={iBox.b} padding={{ left: 5.8, right: 6.5 }} interval={0} tickSize={4} axisLine={axisLine} tickLine={tickLine} tick={rotTick(rollLabels, 8.5)} />
          <XAxis xAxisId="pts" dataKey="x" type="number" domain={[-0.5, 3.5]} padding={{ left: 5.8, right: 6.5 }} hide />
          <YAxis domain={[0, 250]} ticks={[0, 50, 100, 150, 200, 250]} width={iBox.l} interval={0} tickSize={3} axisLine={axisLine} tickLine={tickLine} tick={axisTick(9)} tickMargin={1} />
          <Bar xAxisId="cat" dataKey="v" barSize={24} isAnimationActive={false}>
            {[ORANGE, PURPLE, ORANGE, PURPLE].map((c, i) => (
              <Cell key={i} fill={c} />
            ))}
          </Bar>
          <Scatter xAxisId="pts" data={iDots} dataKey="y" shape={dotShape(2, "#000")} isAnimationActive={false} />
        </ComposedChart>
      </div>

      {/* J */}
      <div style={jBox.style}>
        <ScatterChart width={jBox.width} height={jBox.height} margin={jBox.margin}>
          <XAxis type="number" dataKey="x" domain={[-0.649, 3.666]} ticks={[0, 1, 2, 3]} height={jBox.b} interval={0} tickSize={4} axisLine={axisLine} tickLine={tickLine} tick={rotTick(rollLabels, 8.5, 3, 6)} />
          <YAxis type="number" dataKey="y" domain={[0, 400]} ticks={[0, 100, 200, 300, 400]} width={jBox.l} interval={0} tickSize={3} axisLine={axisLine} tickLine={tickLine} tick={axisTick(9)} tickMargin={1} />
          {jSwarm.map((pts, i) => (
            <Scatter key={i} data={pts} shape={dotShape(1.35, "#000")} isAnimationActive={false} />
          ))}
          <Scatter
            data={jLines}
            shape={(p: any) => <line x1={p.cx - 12} x2={p.cx + 12} y1={p.cy} y2={p.cy} stroke="#f5361a" strokeWidth={1.5} />}
            isAnimationActive={false}
          />
        </ScatterChart>
      </div>

      {/* K */}
      <TumorChart box={kBox} top={250} ticks={[0, 50, 100, 150, 200, 250]} first={{ c: "#777", w: 1.6 }} second={{ c: "#111", w: 1 }} lines={treated} />
      <TumorChart box={nBox} top={200} ticks={[0, 50, 100, 150, 200]} first={{ c: "#111", w: 1 }} second={{ c: "#555", w: 1 }} lines={nonTreated} />

      {/* L */}
      <div style={lBox.style}>
        <ComposedChart width={lBox.width} height={lBox.height} data={lData} margin={lBox.margin}>
          <defs>
            <pattern id="hatch" patternUnits="userSpaceOnUse" width={8} height={8} patternTransform="rotate(45)">
              <rect width={8} height={8} fill={PURPLE} />
              <rect width={3.6} height={8} fill="#fff" />
            </pattern>
          </defs>
          <XAxis xAxisId="cat" dataKey="name" height={lBox.b} padding={{ left: 5.5, right: 5.2 }} interval={0} tickSize={3} axisLine={axisLine} tickLine={tickLine} tick={rotTick(lLabels, 8)} />
          <XAxis xAxisId="pts" dataKey="x" type="number" domain={[-0.5, 1.5]} padding={{ left: 5.5, right: 5.2 }} hide />
          <YAxis domain={[0, 30]} ticks={[0, 10, 20, 30]} width={lBox.l} interval={0} tickSize={3} axisLine={axisLine} tickLine={tickLine} tick={axisTick(9)} tickMargin={1} />
          <Bar xAxisId="cat" dataKey="v" barSize={19} isAnimationActive={false}>
            <Cell fill={PURPLE} />
            <Cell fill="url(#hatch)" />
            <ErrorBar dataKey="e" width={6} stroke="#333" strokeWidth={1} />
          </Bar>
          <Scatter xAxisId="pts" data={lDots} dataKey="y" shape={dotShape(1.6, "#000")} isAnimationActive={false} />
        </ComposedChart>
      </div>

      <Annotations />
    </div>
  );
};

export default App;
